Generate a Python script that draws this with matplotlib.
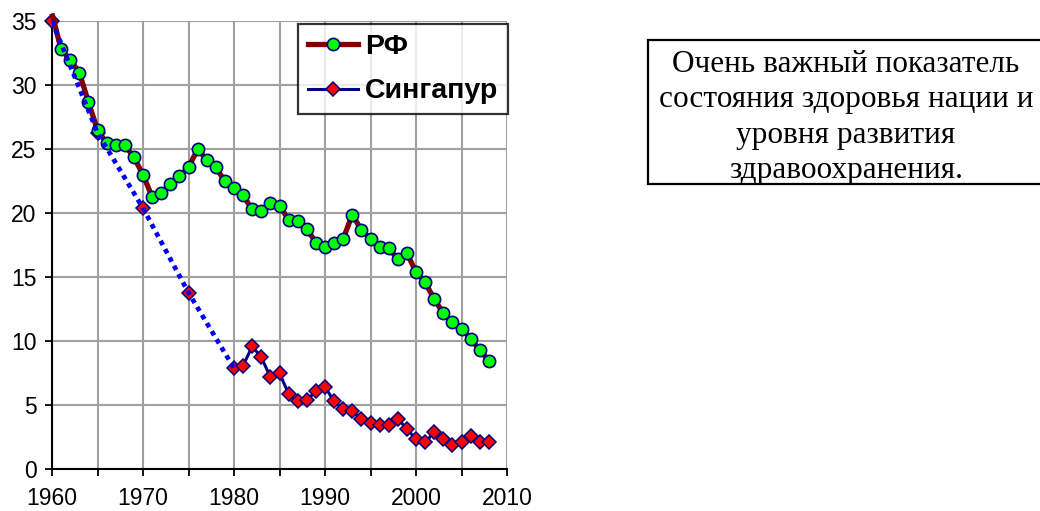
import numpy as np
import matplotlib.pyplot as plt
from matplotlib.lines import Line2D
from matplotlib.patches import Rectangle

# младенческая смертность, на 1000 родившихся
rf_years = list(range(1960, 2009))
rf_values = [35.6, 32.8, 32.0, 31.0, 28.7, 26.5, 25.5, 25.3, 25.3, 24.4,
             23.0, 21.3, 21.6, 22.3, 22.9, 23.6, 25.0, 24.2, 23.6, 22.5,
             22.0, 21.4, 20.3, 20.2, 20.8, 20.6, 19.5, 19.4, 18.8, 17.7,
             17.4, 17.7, 18.0, 19.9, 18.7, 18.0, 17.4, 17.3, 16.4, 16.9,
             15.4, 14.6, 13.3, 12.2, 11.5, 11.0, 10.2, 9.3, 8.5]

sg_years = [1960, 1965, 1970, 1975] + list(range(1980, 2009))
sg_values = [35.0, 26.3, 20.4, 13.8,
             7.9, 8.1, 9.6, 8.75, 7.2, 7.5, 5.9, 5.3, 5.4, 6.1,
             6.45, 5.3, 4.7, 4.55, 3.9, 3.65, 3.45, 3.5, 3.95, 3.15,
             2.35, 2.1, 2.9, 2.35, 1.9, 2.1, 2.6, 2.1, 2.1]

x_ticks = list(range(1960, 2011, 5))
x_labels = ["1960", "", "1970", "", "1980", "", "1990", "", "2000", "", "2010"]
y_ticks = list(range(0, 36, 5))

legend_labels = ["РФ", "Сингапур"]
note_lines = ["Очень важный показатель",
              "состояния здоровья нации и",
              "уровня развития",
              "здравоохранения."]

plt.rcParams['font.family'] = ['Liberation Sans', 'DejaVu Sans']

fig = plt.figure(figsize=(10.4, 5.11), dpi=100)
ax = fig.add_axes([52 / 1040, 1 - 469.3 / 511, 455 / 1040, 448 / 511])

sg_y = np.array(sg_years)
sg_v = np.array(sg_values)
early = sg_y <= 1980
late = sg_y >= 1980

# Сингапур: сплошная линия только там, где данные по годам
ax.plot(sg_y[late], sg_v[late], color='#000080', lw=2.2, zorder=3)
ax.plot(sg_y, sg_v, ls='none', marker='D', ms=6.8, mfc='#ff0000', mec='#000080',
        mew=1.1, zorder=3, clip_on=False)

# РФ
ax.plot(rf_years, rf_values, color='#800000', lw=3.8, zorder=4, clip_on=False,
        solid_capstyle='butt')
ax.plot(rf_years, rf_values, ls='none', marker='o', ms=8.8, mfc='#00ff00',
        mec='#000080', mew=1.2, zorder=5)

# пунктир по редким точкам
ax.plot(sg_y[early], sg_v[early], color='#0000ff', lw=3.4, ls=(0, (1, 1)),
        dash_capstyle='butt', zorder=6)

ax.set_xlim(1960, 2010)
ax.set_ylim(0, 35)
ax.set_xticks(x_ticks)
ax.set_xticklabels(x_labels)
ax.set_yticks(y_ticks)
ax.tick_params(axis='both', direction='out', length=5, width=1.3, color='black',
               labelsize=16.5)
ax.tick_params(axis='x', pad=8)
ax.tick_params(axis='y', pad=6)
ax.grid(True, color='#a0a0a0', lw=1.5)
ax.set_axisbelow(True)
for s in ['top', 'right']:
    ax.spines[s].set_visible(False)
for s in ['left', 'bottom']:
    ax.spines[s].set_linewidth(1.5)
    ax.spines[s].set_zorder(2.5)

handles = [
    Line2D([], [], color='#800000', lw=3.8, marker='o', ms=8.8, mfc='#00ff00',
           mec='#000080', mew=1.2),
    Line2D([], [], color='#000080', lw=2.2, marker='D', ms=6.8, mfc='#ff0000',
           mec='#000080', mew=1.1),
]
leg = ax.legend(handles, legend_labels, loc='upper left',
                bbox_to_anchor=(298 / 1040, 1 - 24 / 511),
                bbox_transform=fig.transFigure, borderaxespad=0,
                prop={'weight': 'bold', 'size': 20.5}, frameon=True,
                fancybox=False, handlelength=1.75, handletextpad=0.25,
                labelspacing=0.65, borderpad=0.35)
leg.get_frame().set_edgecolor('black')
leg.get_frame().set_linewidth(1.6)
leg.set_zorder(10)

# рамка с комментарием
fig.add_artist(Rectangle((648 / 1040, 1 - 184 / 511), 420 / 1040, 144 / 511,
                         transform=fig.transFigure, facecolor='white',
                         edgecolor='black', lw=1.6))
baselines = [71.7, 107, 142.5, 178]
for line, b in zip(note_lines, baselines):
    fig.text(846 / 1040, 1 - b / 511, line, ha='center', va='baseline',
             family=['Liberation Serif', 'DejaVu Serif'], fontsize=22.5)

fig.savefig('out.png', dpi=100)
